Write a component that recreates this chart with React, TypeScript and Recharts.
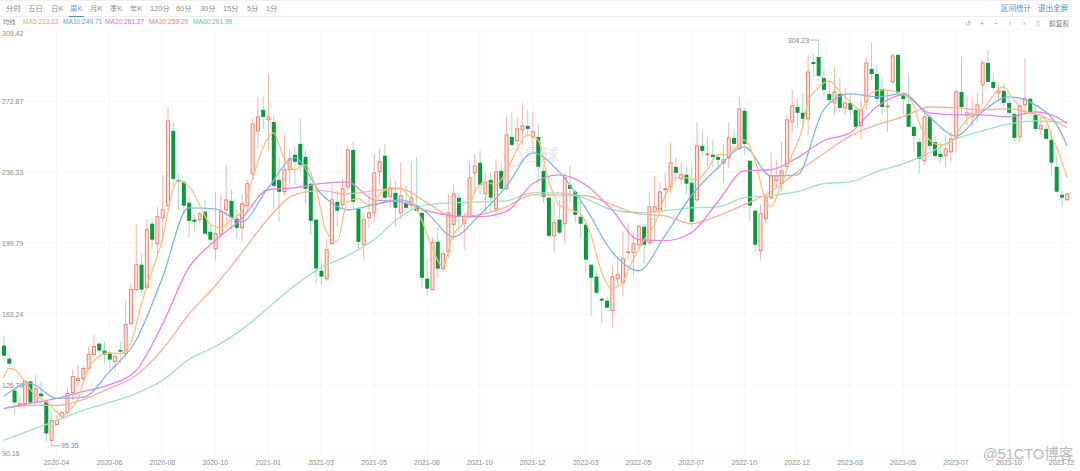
import React from "react";
import {
  Bar,
  CartesianGrid,
  ComposedChart,
  Line,
  XAxis,
  YAxis,
} from "recharts";

const TICK_LABELS = [
  "2020-04", "2020-06", "2020-08", "2020-10", "2021-01", "2021-03", "2021-05",
  "2021-08", "2021-10", "2021-12", "2022-03", "2022-05", "2022-07", "2022-10",
  "2022-12", "2023-03", "2023-05", "2023-07", "2023-10", "2023-12",
];
const Y_TICKS = [309.42, 272.87, 236.33, 199.79, 163.24, 126.7, 90.16];

// weekly candles, one entry per week
const open = [
  147, 140.3, 123.9, 116.2, 117.2, 128.5, 117.7, 122.3, 118.2, 98.2,
  106.4, 110.5, 112.5, 122.8, 129, 130, 135.2, 142.4, 148, 144.4,
  142.9, 138.8, 144.7, 142.9, 158.3, 175.8, 188.6, 176.8, 209.7, 199.4,
  212.8, 219, 257.5, 232.3, 231.3, 220.5, 211.8, 211.8, 215.9, 205.6,
  196.8, 204.1, 216.9, 221.5, 212.3, 207.6, 219, 235.4, 257.5, 268.3,
  263.2, 262.1, 232.3, 226.2, 237.5, 245.2, 250.8, 244.1, 230.3, 211.8,
  185.5, 181.4, 199.4, 221, 219.5, 228.7, 247.7, 217.4, 198.9, 212.8,
  215.3, 236.4, 244.7, 223.6, 225.6, 215.3, 220.5, 219.5, 219, 215.3,
  181.4, 175.8, 200.4, 186.6, 195.3, 209.2, 223.1, 209.7, 213.3, 235.9,
  241.1, 225.1, 232.3, 217.4, 236.9, 227.7, 254.4, 252.4, 258, 260.1,
  254.4, 254.4, 236.9, 223.1, 203.5, 211.8, 209.7, 229.7, 226.2, 213.3,
  209.2, 188.6, 182.5, 171.1, 170.1, 165, 181.4, 179.4, 194.8, 194.8,
  198.9, 208.2, 199.9, 215.9, 216.9, 227.2, 228.7, 239, 232.8, 234.9,
  230.8, 222, 249.8, 245.2, 245.2, 244.1, 241, 243.6, 253.9, 248.2,
  267.8, 242.1, 216.4, 195.8, 212.3, 223.1, 231.8, 230.3, 239, 262.1,
  269.8, 266.8, 263.7, 293, 295.5, 284.7, 276.5, 271.9, 276.5, 269.3,
  271.9, 268.3, 260.1, 272.4, 289.4, 286.8, 279.1, 269.8, 282.7, 296.6,
  277, 271.4, 259.6, 251.8, 242.1, 264.7, 251.8, 245.7, 244.6, 246.7,
  253.9, 277.5, 265.7, 264.7, 265.7, 281.1, 292.5, 282.7, 277, 278.1,
  271.9, 266.2, 254.4, 270.9, 274, 265.7, 258.5, 258.5, 252.9, 239,
  224.6, 222,
];
const high = [
  152.1, 142.4, 124.9, 121.8, 129, 129, 132.1, 128.5, 119.2, 112,
  111, 113, 124.9, 134.7, 136.7, 136.7, 146.5, 152.6, 148.5, 149,
  144.4, 142.9, 149, 170.1, 178.9, 209.2, 193.8, 211.8, 212.3, 218.4,
  234.9, 269.8, 262.1, 235.9, 232.3, 223.6, 214.8, 215.9, 222, 209.2,
  226.1, 224.6, 240, 227.2, 217.4, 225.1, 232.3, 263.7, 275, 275,
  286.8, 265.7, 244.1, 255.4, 247.7, 249.3, 263.7, 247.7, 231.3, 212.3,
  190.2, 201.5, 230.3, 227.2, 232.8, 250.3, 251.8, 218.4, 215.3, 225.6,
  245.7, 248.8, 250.8, 233.9, 231.8, 241.1, 229.7, 241.6, 244.1, 216.9,
  191.7, 202.5, 208.2, 196.3, 225.1, 229.7, 225.6, 215.3, 241.6, 245.7,
  247.7, 235.4, 236.4, 243.1, 241.1, 264.7, 267.3, 264.7, 271.9, 268.3,
  266.8, 261.6, 240, 225.6, 221, 222, 235.9, 239.5, 227.2, 222,
  210.7, 189, 184.5, 172.2, 172.2, 188.1, 192.7, 205.6, 210.2, 205.1,
  209.2, 209.7, 226.1, 234.4, 230.8, 235.9, 251.3, 244.1, 241.6, 239,
  239, 262.1, 258, 253.9, 252.9, 245.7, 250.3, 261.6, 258.5, 275,
  269.3, 242.5, 216.9, 219.5, 224.6, 246.7, 242.6, 251.8, 265.7, 278.6,
  274.5, 277, 296.6, 297.6, 304.23, 289.9, 283.7, 290.4, 284.7, 279.6,
  276, 269.8, 274, 295.5, 303.2, 291.4, 284.7, 278.6, 297.6, 297.6,
  277.5, 286.3, 260.6, 253.9, 266.8, 265.7, 255.4, 251.3, 255.4, 257,
  278.6, 295.5, 275, 275, 277, 294, 299.1, 287.3, 281.1, 281.7,
  275, 267.3, 271.9, 295, 275, 269.8, 264.7, 260.6, 258, 245.2,
  226.7, 225.6,
];
const low = [
  139.3, 136.2, 111.5, 115.1, 116.7, 115.6, 116.7, 117.2, 97.6, 95.35,
  105.9, 109.5, 111, 118.7, 124.9, 127.5, 134.1, 141.3, 142.9, 137.7,
  135.2, 133.6, 137.7, 140.3, 156.8, 174.8, 173.7, 176.3, 196.3, 193.8,
  200.4, 216.4, 228.7, 216.9, 214.3, 202.5, 205.1, 209.7, 204, 198.9,
  190.7, 203, 207.1, 207.1, 202, 201, 215.9, 232.8, 248.2, 258.5,
  247.7, 216.9, 210.7, 224.1, 229.7, 229.7, 234.9, 219.5, 204.1, 178.9,
  178.3, 180.4, 199, 208.2, 217.4, 226.2, 217.9, 196.8, 191.2, 207.6,
  210.7, 229.7, 220.5, 218.4, 208.2, 211.8, 213.3, 216.9, 215.9, 176.8,
  173.2, 175.3, 181.4, 184.5, 192.2, 201.5, 205.1, 196.3, 212.8, 225.1,
  224.6, 214.8, 215.9, 212.8, 226.2, 226.7, 249.3, 248.2, 250.3, 254.4,
  246.7, 230.3, 220.5, 202.5, 195.3, 204.1, 199.9, 221, 210.2, 202.5,
  184.5, 162.4, 173.2, 158.3, 165.5, 156.8, 178.3, 172.2, 191.2, 182.5,
  197.4, 189.1, 198.9, 201.5, 215.9, 216.9, 225.6, 230.8, 229.7, 224.6,
  207.6, 221, 244.1, 239, 238.5, 237.5, 230.8, 238.5, 246.2, 247.7,
  245.2, 210.7, 195.3, 191.2, 209.2, 222, 228.2, 226.2, 237.5, 257,
  259.6, 259.6, 255.4, 285.3, 283.7, 275, 271.9, 265.7, 267.3, 265.7,
  264.7, 259.1, 252.9, 268.3, 283.7, 270.9, 265.7, 257, 281.7, 276,
  265.7, 259.1, 246.7, 235.4, 240, 247.7, 242.6, 241.1, 239, 241.6,
  246.2, 265.7, 260.6, 259.6, 262.1, 270.9, 282.2, 278.6, 272.4, 269.8,
  265.7, 251.8, 251.3, 265.7, 265.2, 257, 255.4, 252.9, 234.9, 225.6,
  218.4, 221.6,
];
const close = [
  141.8, 137.7, 117.7, 117.2, 128.5, 117.7, 124.9, 120.8, 101.8, 108.4,
  108.4, 112.5, 122.3, 131.1, 130, 135.2, 142.4, 146.5, 144.4, 142.4,
  139.8, 141.3, 143.9, 157.8, 175.8, 188.6, 175.8, 206.6, 201.5, 213.3,
  216.9, 262.6, 232.8, 231.3, 219, 211.2, 210.7, 214.8, 204.6, 201.5,
  204.6, 215.9, 222, 212.8, 207.6, 220, 230.3, 261.1, 264.7, 264.7,
  264.7, 229.2, 226.2, 237.5, 243.1, 241.6, 240, 227.7, 211.2, 186.6,
  182.5, 196.3, 222, 216.4, 227.7, 247.7, 221, 200.4, 211.8, 215.3,
  235.9, 241.6, 223.1, 228.2, 217.9, 224.1, 217.9, 223.1, 216.4, 181.9,
  176.3, 200, 186.6, 194.3, 215.3, 225.1, 213.3, 213.3, 233.3, 239.5,
  229.7, 230.8, 223.1, 236.4, 227.7, 255.4, 250.3, 258.5, 260.1, 258.5,
  257, 239, 223.6, 203.5, 210.2, 205.1, 233.3, 227.7, 214.3, 209.7,
  191.2, 181.9, 174.2, 170.1, 166.5, 182.5, 183.5, 191.7, 195.3, 199.4,
  208.2, 198.9, 218.4, 218.4, 226.1, 227.7, 241.1, 235.9, 234.9, 230.3,
  210.7, 249.8, 247.2, 245.7, 244.1, 242.6, 242.6, 253.9, 250.8, 268.8,
  250.8, 219, 198.9, 214.8, 223.1, 234.4, 234.4, 236.9, 263.2, 270.4,
  266.8, 263.7, 287.8, 291.9, 285.8, 278.6, 273.4, 277.5, 269.3, 271.9,
  268.3, 259.6, 267.8, 292.5, 286.8, 274, 269.8, 270.4, 296.1, 277,
  273.9, 259.6, 254.9, 243.1, 264.7, 249.8, 244.6, 244.1, 248.2, 253.4,
  277.5, 269.8, 266.8, 266.2, 270.9, 292.5, 282.7, 279.6, 278.1, 271.9,
  266.8, 253.9, 270.4, 274, 266.8, 258.5, 260.1, 253.4, 241.1, 226.2,
  223.1, 225.1,
];

// moving averages at these weeks, the line connects them
const ma5Weeks = [
  0, 1, 2, 4, 6, 8, 10, 11, 12, 14, 16, 18, 20, 22, 24, 26, 28, 30, 32, 33,
  35, 37, 39, 41, 43, 45, 47, 49, 51, 53, 55, 57, 59, 61, 63, 65, 67, 69, 71, 73,
  75, 77, 79, 81, 83, 85, 87, 89, 91, 93, 95, 97, 99, 101, 103, 105, 107, 109, 111, 113,
  115, 117, 119, 121, 123, 125, 127, 129, 131, 133, 135, 136, 138, 140, 142, 144, 145, 147, 149, 151,
  152, 154, 156, 158, 160, 162, 164, 166, 168, 170, 172, 173, 175, 177, 179, 181, 183, 185, 187, 188,
  189, 191, 193, 195, 197, 198, 199, 201,
];
const ma5 = [
  130, 135.2, 134.7, 128.5, 121.3, 118.2, 113.1, 110.5, 112.5, 119.2, 135.2, 141.3, 143.4, 142.9, 148, 168.1, 185, 201.5, 227.2, 231.8,
  229.2, 219.5, 209.7, 207.6, 211.8, 215.9, 232.3, 248.8, 256.5, 243.6, 237.5, 240, 228.2, 205.6, 200.4, 221, 222.6, 219.5, 224.6, 228.2,
  228.2, 222, 211.8, 197.4, 187.6, 204, 210.7, 225.6, 231.3, 229.8, 236.4, 247.7, 255.4, 252.9, 232.3, 219.5, 216.9, 214.8, 204.1, 185,
  176.3, 179.9, 191.2, 201, 209.2, 223.6, 233.3, 233.3, 232.3, 237.5, 245.2, 245.2, 247.7, 252.9, 242.6, 222, 218.4, 229.8, 244.7, 259,
  271.9, 279.6, 283.2, 278.1, 272.4, 268.3, 277, 278.6, 278.1, 276.5, 270.9, 262.1, 252.9, 250.3, 251.3, 259.6, 265.7, 268.3, 275.5, 279.1,
  280.1, 273.4, 267.3, 266.2, 263.2, 255.4, 249.3, 233.62,
];

// slower averages, one reading every five weeks plus the last week
const slowWeeks = [
  0, 5, 10, 15, 20, 25, 30, 35, 40, 45, 50, 55, 60, 65, 70, 75, 80, 85, 90, 95, 100,
  105, 110, 115, 120, 125, 130, 135, 140, 145, 150, 155, 160, 165, 170, 175, 180, 185, 190, 195, 200, 201,
];
const ma10 = [
  120.8, 127.5, 119.8, 120.3, 133.6, 149.6, 181.9, 217.9, 217.4, 210.7, 228.2, 243.6, 225.1, 216.9, 219.5, 222, 215.4, 203, 214.3, 228.7, 246.2,
  236.4, 217.9, 195.3, 185.5, 203.5, 224.1, 238.5, 249.3, 234.4, 234.9, 268.3, 276.5, 275, 276.5, 264.7, 254.9, 267.3, 275, 270.9, 256, 249.71,
];
const ma20 = [
  114.6, 117.2, 119.8, 123.3, 126.9, 134.1, 157.8, 187.1, 201, 212.3, 227.2, 228.2, 230.3, 231.3, 222, 221, 216.4, 213.8, 213.3, 215.9, 230.3,
  234.9, 229.8, 216.9, 201.5, 201, 205.1, 221, 236.9, 237.5, 243.6, 252.4, 256.5, 269.8, 276, 266.8, 265.7, 265.7, 264.7, 267.3, 263.2, 261.27,
];
const ma30 = [
  114.6, 116.2, 116.2, 119.2, 124.9, 131.6, 145, 163, 177.8, 194.8, 212.3, 224.6, 226.7, 225.1, 226.7, 227.7, 220.5, 213.3, 214.3, 218.4, 224.6,
  224.6, 224.1, 219.5, 214.8, 213.8, 209.7, 213.8, 219.5, 226.2, 236.4, 245.7, 254.9, 260.6, 264.7, 269.8, 269.3, 268.3, 268.8, 266.2, 260.6, 259.29,
];
const ma60 = [
  98.2, 103.3, 108.4, 113.6, 117.7, 122.3, 129, 139.8, 146.5, 155.2, 166.5, 177.8, 187.1, 193.3, 201.5, 213.3, 219.5, 220.5, 221, 221.5, 225.6,
  225.6, 222.6, 216.9, 215.4, 216.4, 217.9, 218.4, 223.1, 224.1, 226.2, 230.3, 231.3, 236.4, 240.5, 246.2, 253.4, 257.5, 261.1, 262.6, 262.1, 261.99,
];

const PERIODS = ["分时", "五日", "日K", "周K", "月K", "季K", "年K", "120分", "60分", "30分", "15分", "5分", "1分"];
const PERIOD_LEFT = [6, 28, 51, 70, 90, 110, 130, 150, 176, 200, 223, 247, 266];
const MA_LEGEND = [
  { text: "MA5:233.62", color: "#f5a24c", left: 23 },
  { text: "MA10:249.71", color: "#5c9fe2", left: 63 },
  { text: "MA20:261.27", color: "#f062d8", left: 105 },
  { text: "MA30:259.29", color: "#f5846a", left: 149 },
  { text: "MA60:261.99", color: "#52c992", left: 193 },
];
const TOOL_ICONS = ["↺", "+", "−", "‹", "›", "▯"];
const TOOL_LEFT = [965, 980, 994, 1009, 1023, 1036];

const FONT = '"Liberation Sans", "Noto Sans CJK SC", sans-serif';

const weekOf = (list: number[], weeks: number[], i: number) => {
  const at = weeks.indexOf(i);
  return at === -1 ? null : list[at];
};

const rows = open.map((o, i) => ({
  i,
  open: o,
  high: high[i],
  low: low[i],
  close: close[i],
  ma5: weekOf(ma5, ma5Weeks, i),
  ma10: weekOf(ma10, slowWeeks, i),
  ma20: weekOf(ma20, slowWeeks, i),
  ma30: weekOf(ma30, slowWeeks, i),
  ma60: weekOf(ma60, slowWeeks, i),
}));

const topHigh = Math.max(...high);
const bottomLow = Math.min(...low);

function Candle(props: any) {
  const { x, y, width, height, payload } = props;
  const { open: o, close: c, high: h, low: l } = payload;
  const perUnit = height / (h - l);
  const top = y + (h - Math.max(o, c)) * perUnit;
  const bodyH = Math.max(Math.abs(o - c) * perUnit, 0.8);
  const mid = x + width / 2;
  const up = c >= o;
  return (
    <g>
      <line x1={mid} x2={mid} y1={y} y2={y + height} stroke={up ? "#f4b3a7" : "#a8ddbc"} strokeWidth={1} />
      {up ? (
        <rect x={x + 0.5} y={top} width={width - 1} height={bodyH} fill="#fde3dd" stroke="#ec7a66" strokeWidth={0.9} />
      ) : (
        <rect x={x} y={top} width={width} height={bodyH} fill="#0a9a3c" />
      )}
      {h === topHigh && (
        <g>
          <line x1={mid - 9} x2={mid} y1={y} y2={y} stroke="#999" strokeWidth={0.7} />
          <text x={mid - 9.5} y={y + 2.5} textAnchor="end" fontSize={7} fill="#888" fontFamily={FONT}>{h.toFixed(2)}</text>
        </g>
      )}
      {l === bottomLow && (
        <g>
          <line x1={mid} x2={mid + 9} y1={y + height} y2={y + height} stroke="#999" strokeWidth={0.7} />
          <text x={mid + 9.5} y={y + height + 2.5} fontSize={7} fill="#888" fontFamily={FONT}>{l.toFixed(2)}</text>
        </g>
      )}
    </g>
  );
}

function YTick(props: any) {
  const { y, payload } = props;
  // first and last labels sit inside the plot
  const shift = payload.index === 0 ? 3 : payload.index === Y_TICKS.length - 1 ? -3 : 0;
  return (
    <text x={2} y={y + shift + 2.5} fontSize={7} fill="#8c8c8c" fontFamily={FONT}>
      {payload.value.toFixed(2)}
    </text>
  );
}

function XTick(props: any) {
  const { x, y, payload } = props;
  return (
    <text x={x} y={y + 1} textAnchor="middle" fontSize={7} fill="#8c8c8c" fontFamily={FONT}>
      {TICK_LABELS[payload.value / 10 - 1]}
    </text>
  );
}

const label = (left: number, top: number, size: number, color: string): React.CSSProperties => ({
  position: "absolute",
  left,
  top,
  fontSize: size,
  lineHeight: "10px",
  color,
  fontFamily: FONT,
  whiteSpace: "nowrap",
});

export default function App() {
  return (
    <div style={{ position: "absolute", left: 0, top: 0, width: 1080, height: 471, background: "#fff", overflow: "hidden" }}>
      <div style={{ position: "absolute", left: 0, top: 0, width: 1072, height: 17, borderTop: "1px solid #f0f0f0", borderBottom: "1px solid #eeeeee", borderRight: "1px solid #f0f0f0", boxSizing: "border-box" }} />
      {PERIODS.map((p, i) => (
        <div key={p} style={label(PERIOD_LEFT[i], 4, 7.4, p === "周K" ? "#5c9fe2" : "#8c8c8c")}>{p}</div>
      ))}
      <div style={{ position: "absolute", left: 69, top: 15.5, width: 15, height: 1, background: "#4a90e2" }} />
      <div style={label(1001, 4, 7.5, "#4f8fd8")}>区间统计</div>
      <div style={label(1038, 4, 7.5, "#4f8fd8")}>退出全屏</div>
      <div style={label(3, 17, 6.2, "#777")}>均线</div>
      {MA_LEGEND.map((m) => (
        <div key={m.text} style={label(m.left, 17, 6.6, m.color)}>{m.text}</div>
      ))}
      {TOOL_ICONS.map((t, i) => (
        <div key={t} style={label(TOOL_LEFT[i], 19, 7, "#999")}>{t}</div>
      ))}
      <div style={label(1049, 19, 6.8, "#777")}>前复权</div>

      <div style={{ ...label(525, 146, 17, "#e3e7f0"), lineHeight: "20px" }}>雪球</div>
      <div style={{ position: "absolute", left: 504, top: 148, width: 15, height: 15, border: "2px solid #e6eaf2", borderRadius: "50%" }} />

      <div style={{ position: "absolute", left: 0, top: 0 }}>
        <ComposedChart
          width={1080}
          height={471}
          data={rows}
          margin={{ top: 30, right: 7, bottom: 0, left: 1 }}
          barCategoryGap={0}
        >
          <CartesianGrid stroke="#f6f6f6" strokeWidth={1} syncWithTicks />
          <XAxis
            dataKey="i"
            type="category"
            ticks={TICK_LABELS.map((_, k) => (k + 1) * 10)}
            interval={0}
            height={15}
            padding={{ left: 0, right: 3.4 }}
            axisLine={false}
            tickLine={false}
            tick={XTick}
          />
          <YAxis
            type="number"
            domain={[90.16, 309.42]}
            ticks={Y_TICKS}
            interval={0}
            mirror
            axisLine={false}
            tickLine={false}
            tick={YTick}
            allowDataOverflow
          />
          <Bar
            dataKey={(d: any) => [d.low, d.high]}
            barSize={4}
            shape={Candle}
            isAnimationActive={false}
          />
          <Line dataKey="ma60" type="monotone" stroke="#9be3c1" strokeWidth={1.3} dot={false} connectNulls isAnimationActive={false} />
          <Line dataKey="ma30" type="monotone" stroke="#fdb096" strokeWidth={1.3} dot={false} connectNulls isAnimationActive={false} />
          <Line dataKey="ma20" type="monotone" stroke="#f07fe3" strokeWidth={1.3} dot={false} connectNulls isAnimationActive={false} />
          <Line dataKey="ma10" type="monotone" stroke="#80b5ec" strokeWidth={1.3} dot={false} connectNulls isAnimationActive={false} />
          <Line dataKey="ma5" type="monotone" stroke="#ffbf80" strokeWidth={1.3} dot={false} connectNulls isAnimationActive={false} />
        </ComposedChart>
      </div>

      <div style={{ ...label(983, 446, 14.5, "#a9a9a9"), lineHeight: "16px", opacity: 0.8 }}>@51CTO博客</div>
    </div>
  );
}
